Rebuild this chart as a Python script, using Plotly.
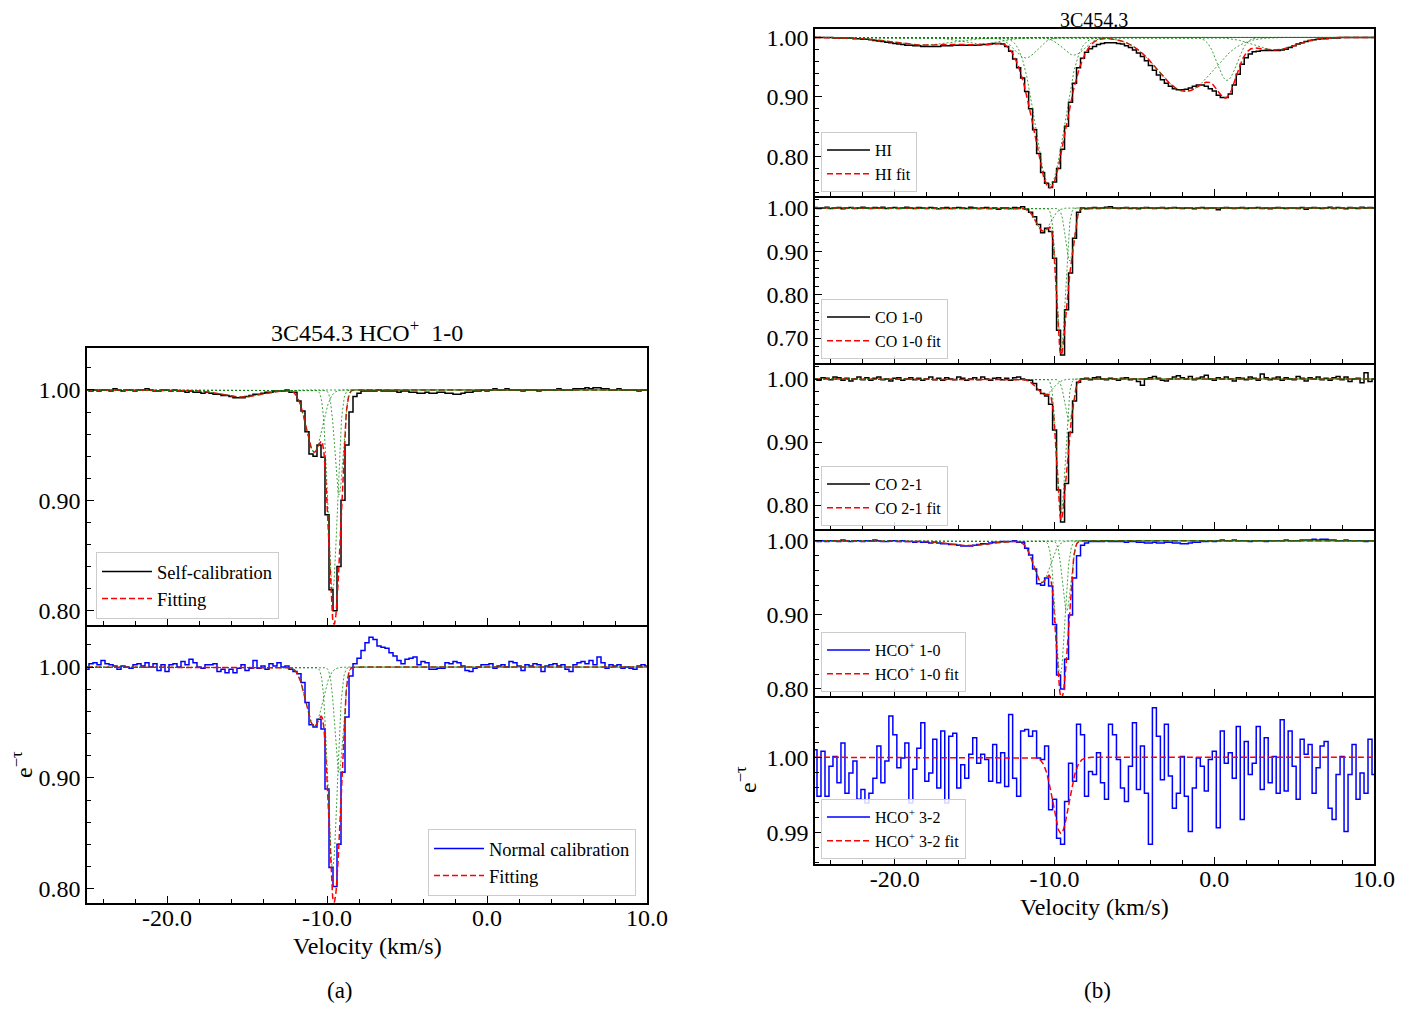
import numpy as np
import plotly.graph_objects as go

# page pixels of the reference; the figure div sits 8 px in from the page corner
PAGE_W, PAGE_H = 1427, 1011
OFF = 8
W, H = PAGE_W - OFF, PAGE_H - OFF
FONT = "Liberation Serif"

# ---------------- channel grid (km/s) ----------------
V_START, V_STEP = -25.0, 0.25

# ---------------- observed spectra (e^-tau per channel, from -25 to 10 km/s) ----------------
hco10_self = [
    1.000, 0.999, 1.000, 0.999,   # -25
    1.000, 1.000, 0.999, 1.001,   # -24
    1.000, 0.999, 1.000, 1.000,   # -23
    0.999, 1.000, 1.000, 1.001,   # -22
    1.000, 0.999, 0.999, 1.000,   # -21
    1.000, 0.999, 1.000, 0.999,   # -20
    0.999, 0.998, 0.999, 0.998,   # -19
    0.998, 0.997, 0.998, 0.997,   # -18
    0.996, 0.996, 0.995, 0.995,   # -17
    0.994, 0.993, 0.993, 0.993,   # -16
    0.994, 0.995, 0.996, 0.996,   # -15
    0.997, 0.998, 0.998, 0.999,   # -14
    0.999, 0.999, 1.000, 0.998,   # -13
    0.998, 0.990, 0.981, 0.962,   # -12
    0.942, 0.940, 0.950, 0.939,   # -11
    0.887, 0.819, 0.800, 0.840,   # -10
    0.900, 0.950, 0.980, 0.994,   # -9
    0.997, 0.999, 0.999, 0.999,   # -8
    0.999, 1.000, 0.999, 0.999,   # -7
    0.999, 0.999, 0.998, 0.999,   # -6
    0.999, 0.998, 0.998, 0.997,   # -5
    0.997, 0.998, 0.997, 0.997,   # -4
    0.998, 0.998, 0.997, 0.997,   # -3
    0.996, 0.996, 0.997, 0.998,   # -2
    0.998, 0.999, 0.999, 1.000,   # -1
    0.999, 1.000, 1.001, 1.000,   # 0
    1.000, 1.001, 1.000, 1.000,   # 1
    1.000, 0.999, 1.000, 1.000,   # 2
    1.000, 0.999, 1.000, 1.000,   # 3
    1.000, 1.000, 1.001, 1.000,   # 4
    1.000, 1.000, 1.001, 1.001,   # 5
    1.001, 1.002, 1.001, 1.002,   # 6
    1.002, 1.001, 1.001, 1.000,   # 7
    1.000, 1.001, 1.000, 1.000,   # 8
    1.000, 1.000, 0.999, 1.000,   # 9
    1.000,                        # 10
]

hco10_norm = [
    0.998, 1.003, 1.004, 1.002,   # -25
    1.006, 1.003, 1.002, 1.001,   # -24
    0.998, 1.001, 1.000, 0.999,   # -23
    1.002, 1.003, 1.001, 1.004,   # -22
    1.000, 1.003, 0.997, 1.002,   # -21
    0.996, 1.002, 1.003, 1.000,   # -20
    1.005, 1.002, 1.007, 1.004,   # -19
    1.000, 0.999, 1.002, 1.002,   # -18
    1.003, 0.996, 0.998, 0.995,   # -17
    0.998, 0.995, 0.999, 1.002,   # -16
    0.997, 0.999, 1.006, 0.999,   # -15
    1.001, 0.998, 1.003, 1.001,   # -14
    1.004, 1.000, 1.001, 0.998,   # -13
    0.996, 0.994, 0.986, 0.968,   # -12
    0.948, 0.946, 0.953, 0.944,   # -11
    0.890, 0.819, 0.802, 0.840,   # -10
    0.905, 0.955, 0.992, 1.003,   # -9
    1.008, 1.015, 1.022, 1.027,   # -8
    1.025, 1.019, 1.018, 1.017,   # -7
    1.013, 1.010, 1.006, 1.003,   # -6
    1.007, 1.008, 1.009, 1.002,   # -5
    1.005, 1.004, 0.998, 0.998,   # -4
    0.999, 0.999, 1.004, 1.003,   # -3
    1.005, 1.004, 1.001, 0.997,   # -2
    0.996, 0.999, 1.000, 1.002,   # -1
    1.002, 1.003, 0.999, 1.001,   # 0
    1.002, 1.000, 1.005, 1.004,   # 1
    1.001, 0.997, 1.002, 1.001,   # 2
    1.003, 1.002, 0.996, 1.001,   # 3
    1.002, 1.003, 1.001, 1.002,   # 4
    0.998, 0.996, 1.002, 1.004,   # 5
    1.005, 1.003, 1.006, 1.002,   # 6
    1.009, 1.004, 0.999, 1.002,   # 7
    1.001, 1.002, 0.999, 1.000,   # 8
    0.999, 0.998, 1.001, 1.002,   # 9
    1.001,                        # 10
]

hi_obs = [
    1.000, 1.000, 1.000, 1.000,   # -25
    1.000, 0.999, 0.999, 0.999,   # -24
    0.999, 0.999, 0.998, 0.998,   # -23
    0.997, 0.997, 0.996, 0.995,   # -22
    0.994, 0.993, 0.992, 0.991,   # -21
    0.990, 0.989, 0.988, 0.987,   # -20
    0.987, 0.986, 0.986, 0.985,   # -19
    0.985, 0.985, 0.985, 0.985,   # -18
    0.986, 0.986, 0.986, 0.987,   # -17
    0.987, 0.987, 0.987, 0.987,   # -16
    0.987, 0.987, 0.988, 0.988,   # -15
    0.989, 0.990, 0.990, 0.989,   # -14
    0.985, 0.977, 0.964, 0.949,   # -13
    0.932, 0.909, 0.880, 0.845,   # -12
    0.805, 0.773, 0.755, 0.748,   # -11
    0.757, 0.780, 0.812, 0.851,   # -10
    0.891, 0.923, 0.949, 0.965,   # -9
    0.975, 0.981, 0.985, 0.988,   # -8
    0.990, 0.991, 0.991, 0.991,   # -7
    0.990, 0.989, 0.986, 0.983,   # -6
    0.979, 0.974, 0.968, 0.961,   # -5
    0.953, 0.945, 0.937, 0.929,   # -4
    0.923, 0.918, 0.914, 0.912,   # -3
    0.912, 0.913, 0.915, 0.918,   # -2
    0.920, 0.920, 0.918, 0.914,   # -1
    0.910, 0.903, 0.899, 0.899,   # 0
    0.905, 0.920, 0.938, 0.955,   # 1
    0.966, 0.972, 0.976, 0.977,   # 2
    0.978, 0.978, 0.978, 0.978,   # 3
    0.978, 0.979, 0.980, 0.983,   # 4
    0.986, 0.989, 0.991, 0.993,   # 5
    0.995, 0.996, 0.997, 0.998,   # 6
    0.998, 0.999, 0.999, 0.999,   # 7
    1.000, 1.000, 1.000, 1.000,   # 8
    1.000, 1.000, 1.000, 1.000,   # 9
    1.000,                        # 10
]

co10_obs = [
    1.001, 0.999, 1.000, 1.002,   # -25
    0.999, 1.000, 1.001, 0.998,   # -24
    1.000, 1.001, 0.999, 1.000,   # -23
    1.002, 1.000, 0.999, 1.001,   # -22
    1.000, 1.002, 0.999, 1.000,   # -21
    1.001, 0.999, 1.000, 1.002,   # -20
    1.000, 0.999, 1.001, 1.000,   # -19
    0.999, 1.001, 1.000, 0.998,   # -18
    1.000, 1.001, 0.999, 1.000,   # -17
    1.001, 1.000, 0.999, 1.002,   # -16
    1.000, 0.999, 1.000, 1.001,   # -15
    0.999, 1.000, 0.997, 1.000,   # -14
    1.000, 0.999, 1.001, 1.000,   # -13
    1.003, 0.997, 0.990, 0.980,   # -12
    0.962, 0.943, 0.953, 0.946,   # -11
    0.884, 0.718, 0.661, 0.765,   # -10
    0.850, 0.930, 0.990, 1.000,   # -9
    0.998, 0.999, 1.001, 0.999,   # -8
    1.000, 1.002, 1.003, 1.000,   # -7
    0.999, 1.000, 1.001, 0.999,   # -6
    1.000, 0.998, 1.000, 1.001,   # -5
    1.000, 0.999, 1.000, 1.001,   # -4
    0.999, 1.000, 1.001, 1.000,   # -3
    0.999, 1.000, 1.000, 0.998,   # -2
    1.000, 1.001, 0.999, 1.000,   # -1
    1.000, 0.996, 1.000, 1.001,   # 0
    1.000, 0.999, 1.000, 1.001,   # 1
    0.999, 1.000, 1.000, 1.001,   # 2
    0.999, 1.000, 0.998, 1.000,   # 3
    1.001, 1.000, 0.999, 1.000,   # 4
    1.000, 0.999, 1.001, 0.997,   # 5
    1.000, 1.001, 1.000, 0.999,   # 6
    1.000, 1.002, 0.999, 1.001,   # 7
    1.000, 0.998, 1.001, 1.000,   # 8
    0.999, 1.002, 1.000, 1.001,   # 9
    1.000,                        # 10
]

co21_obs = [
    1.000, 0.998, 1.002, 1.001,   # -25
    0.999, 1.003, 1.002, 0.998,   # -24
    1.001, 0.997, 1.000, 1.003,   # -23
    0.999, 1.002, 0.998, 1.001,   # -22
    1.003, 0.999, 1.000, 0.997,   # -21
    1.001, 1.002, 0.998, 1.000,   # -20
    1.002, 0.999, 1.001, 0.998,   # -19
    1.000, 1.003, 0.999, 1.001,   # -18
    0.998, 1.002, 1.000, 0.999,   # -17
    1.003, 1.001, 0.998, 1.000,   # -16
    1.002, 0.999, 1.003, 1.000,   # -15
    0.998, 1.001, 1.002, 0.999,   # -14
    1.001, 0.998, 1.002, 1.003,   # -13
    1.000, 0.999, 0.998, 0.993,   # -12
    0.983, 0.977, 0.973, 0.960,   # -11
    0.919, 0.824, 0.773, 0.834,   # -10
    0.915, 0.965, 0.995, 1.000,   # -9
    1.001, 0.999, 1.002, 1.003,   # -8
    1.000, 0.999, 1.001, 1.000,   # -7
    0.998, 1.001, 1.002, 0.999,   # -6
    1.000, 0.996, 0.990, 1.000,   # -5
    1.002, 1.004, 1.001, 0.998,   # -4
    0.997, 1.000, 1.003, 1.005,   # -3
    1.002, 1.000, 1.004, 0.999,   # -2
    1.001, 1.003, 1.006, 1.000,   # -1
    0.998, 1.002, 1.000, 1.003,   # 0
    1.000, 0.997, 1.002, 1.001,   # 1
    0.999, 1.003, 1.001, 0.998,   # 2
    1.008, 1.002, 0.999, 1.001,   # 3
    1.003, 0.998, 1.002, 1.000,   # 4
    0.999, 1.004, 1.001, 0.997,   # 5
    1.002, 1.000, 1.003, 0.999,   # 6
    1.001, 0.998, 1.002, 1.004,   # 7
    0.999, 1.003, 0.996, 1.000,   # 8
    1.001, 0.994, 1.010, 0.996,   # 9
    1.000,                        # 10
]

hco32_obs = [
    1.0010, 0.9948, 1.0008, 0.9948,   # -25
    0.9988, 1.0001, 0.9966, 1.0019,   # -24
    0.9952, 0.9979, 0.9995, 0.9944,   # -23
    0.9957, 0.9939, 0.9952, 0.9972,   # -22
    1.0015, 0.9966, 0.9995, 1.0055,   # -21
    1.0030, 0.9986, 0.9999, 1.0019,   # -20
    0.9939, 0.9984, 1.0012, 1.0046,   # -19
    0.9968, 0.9979, 1.0024, 0.9959,   # -18
    1.0035, 0.9939, 1.0028, 1.0032,   # -17
    0.9959, 0.9990, 0.9972, 1.0004,   # -16
    1.0026, 0.9992, 1.0004, 0.9997,   # -15
    0.9968, 1.0017, 0.9966, 1.0006,   # -14
    0.9961, 1.0057, 0.9972, 0.9948,   # -13
    1.0035, 1.0037, 1.0028, 1.0035,   # -12
    0.9999, 0.9997, 1.0015, 0.9930,   # -11
    0.9944, 0.9892, 0.9884, 0.9941,   # -10
    0.9992, 0.9968, 1.0044, 1.0030,   # -9
    0.9948, 0.9981, 0.9977, 1.0006,   # -8
    0.9966, 0.9944, 1.0044, 1.0030,   # -7
    0.9997, 0.9959, 0.9941, 0.9988,   # -6
    1.0046, 0.9957, 1.0015, 0.9952,   # -5
    0.9884, 1.0066, 1.0028, 0.9970,   # -4
    1.0044, 0.9975, 0.9932, 0.9952,   # -3
    1.0001, 0.9948, 0.9901, 0.9959,   # -2
    0.9999, 0.9988, 0.9955, 0.9997,   # -1
    1.0008, 0.9906, 1.0035, 0.9992,   # 0
    1.0006, 0.9972, 1.0041, 0.9917,   # 1
    1.0021, 0.9977, 0.9992, 1.0041,   # 2
    0.9957, 1.0026, 0.9966, 1.0001,   # 3
    0.9952, 1.0050, 0.9955, 1.0035,   # 4
    0.9988, 0.9944, 1.0024, 1.0004,   # 5
    1.0017, 0.9952, 0.9986, 1.0015,   # 6
    1.0021, 0.9932, 0.9917, 0.9977,   # 7
    1.0001, 0.9901, 0.9977, 1.0017,   # 8
    0.9944, 0.9979, 0.9952, 1.0024,   # 9
    0.9977,                           # 10
]

# ---------------- Gaussian fit components (centre km/s, peak tau, sigma km/s) ----------------
hco10_self_cen = [-15.4, -10.8, -9.65, -9.25]
hco10_self_tau = [0.0065, 0.058, 0.20, 0.10]
hco10_self_sig = [1.3, 0.5, 0.28, 0.25]

hco10_norm_cen = [-10.8, -9.65, -9.25]
hco10_norm_tau = [0.055, 0.20, 0.10]
hco10_norm_sig = [0.5, 0.28, 0.25]

hi_cen = [-18.3, -14.6, -11.8, -10.3, -8.8, -1.8, 0.8, 3.8]
hi_tau = [0.013, 0.011, 0.035, 0.285, 0.030, 0.095, 0.075, 0.021]
hi_sig = [1.9, 1.2, 0.7, 0.85, 0.7, 1.7, 0.6, 1.3]

co10_cen = [-10.7, -9.6, -9.05]
co10_tau = [0.055, 0.40, 0.13]
co10_sig = [0.45, 0.25, 0.25]

co21_cen = [-10.6, -9.6, -9.1]
co21_tau = [0.025, 0.24, 0.07]
co21_sig = [0.5, 0.25, 0.25]

hco32_cen = [-9.6]
hco32_tau = [0.0102]
hco32_sig = [0.5]

for nm, arr in [("hco10_self", hco10_self), ("hco10_norm", hco10_norm), ("hi", hi_obs),
                ("co10", co10_obs), ("co21", co21_obs), ("hco32", hco32_obs)]:
    assert len(arr) == 141, (nm, len(arr))

vfine = np.linspace(-25, 10, 1401)


def chan_v(vals):
    return V_START + V_STEP * np.arange(len(vals))


def components(cen, tau, sig):
    taus = [a * np.exp(-0.5 * ((vfine - c) / s) ** 2) for c, a, s in zip(cen, tau, sig)]
    return [np.exp(-t) for t in taus], np.exp(-np.sum(taus, axis=0))


def fx(x):
    return (x - OFF) / W


def fy(y):
    return 1 - (y - OFF) / H


fig = go.Figure()

panels = [
    dict(xpx=(87, 647), ypx=(348, 625), yr=(0.787, 1.038), yt=[0.8, 0.9, 1.0], ym=0.02, xl=False, top=True,
         obs=hco10_self, col="black", name="Self-calibration", fitname="Fitting",
         comp=(hco10_self_cen, hco10_self_tau, hco10_self_sig), leg="legend"),
    dict(xpx=(87, 647), ypx=(625, 903), yr=(0.787, 1.038), yt=[0.8, 0.9, 1.0], ym=0.02, xl=True, top=False,
         obs=hco10_norm, col="blue", name="Normal calibration", fitname="Fitting",
         comp=(hco10_norm_cen, hco10_norm_tau, hco10_norm_sig), leg="legend2"),
    dict(xpx=(815, 1374), ypx=(29, 196), yr=(0.7336, 1.0142), yt=[0.8, 0.9, 1.0], ym=0.02, xl=False, top=True,
         obs=hi_obs, col="black", name="HI", fitname="HI fit",
         comp=(hi_cen, hi_tau, hi_sig), leg="legend3"),
    dict(xpx=(815, 1374), ypx=(196, 363), yr=(0.6423, 1.0277), yt=[0.7, 0.8, 0.9, 1.0], ym=0.02, xl=False, top=False,
         obs=co10_obs, col="black", name="CO 1-0", fitname="CO 1-0 fit",
         comp=(co10_cen, co10_tau, co10_sig), leg="legend4"),
    dict(xpx=(815, 1374), ypx=(363, 529), yr=(0.7619, 1.0254), yt=[0.8, 0.9, 1.0], ym=0.02, xl=False, top=False,
         obs=co21_obs, col="black", name="CO 2-1", fitname="CO 2-1 fit",
         comp=(co21_cen, co21_tau, co21_sig), leg="legend5"),
    dict(xpx=(815, 1374), ypx=(529, 696), yr=(0.7905, 1.016), yt=[0.8, 0.9, 1.0], ym=0.02, xl=False, top=False,
         obs=hco10_self, col="blue", name="HCO<sup>+</sup> 1-0", fitname="HCO<sup>+</sup> 1-0 fit",
         comp=(hco10_self_cen, hco10_self_tau, hco10_self_sig), leg="legend6"),
    dict(xpx=(815, 1374), ypx=(696, 864), yr=(0.98577, 1.00817), yt=[0.99, 1.00], ym=0.002, xl=True, top=False,
         obs=hco32_obs, col="blue", name="HCO<sup>+</sup> 3-2", fitname="HCO<sup>+</sup> 3-2 fit",
         comp=(hco32_cen, hco32_tau, hco32_sig), leg="legend7", nocomp=True),
]

xticks = [-20, -10, 0, 10]
xticktext = ["-20.0", "-10.0", "0.0", "10.0"]
layout_axes = {}

for k, p in enumerate(panels, start=1):
    xa = "x" if k == 1 else f"x{k}"
    ya = "y" if k == 1 else f"y{k}"
    comps, fit = components(*p["comp"])
    fig.add_trace(go.Scatter(x=chan_v(p["obs"]), y=p["obs"], mode="lines",
                             line=dict(color=p["col"], width=1.5, shape="hvh"),
                             name=p["name"], legend=p["leg"], xaxis=xa, yaxis=ya))
    fig.add_trace(go.Scatter(x=vfine, y=fit, mode="lines",
                             line=dict(color="red", width=1.5, dash="6px,3px"),
                             name=p["fitname"], legend=p["leg"], xaxis=xa, yaxis=ya))
    if not p.get("nocomp"):
        for c in comps:
            fig.add_trace(go.Scatter(x=vfine, y=c, mode="lines",
                                     line=dict(color="rgba(0,128,0,0.75)", width=1, dash="2px,2px"),
                                     showlegend=False, hoverinfo="skip", xaxis=xa, yaxis=ya))

    common = dict(showline=True, linecolor="black", linewidth=1.6,
                  ticks="inside", ticklen=7, tickwidth=1.4, tickcolor="black",
                  showgrid=False, zeroline=False, automargin=False,
                  tickfont=dict(family=FONT, size=24, color="black"))
    layout_axes["xaxis" if k == 1 else f"xaxis{k}"] = dict(
        domain=[fx(p["xpx"][0]), fx(p["xpx"][1])], range=[-25, 10], anchor=ya,
        mirror=p["top"], ticklabelstandoff=-8,
        tickmode="array", tickvals=xticks, ticktext=xticktext, showticklabels=p["xl"],
        minor=dict(tickmode="linear", tick0=0, dtick=2, ticks="inside", ticklen=4,
                   tickwidth=1.2, tickcolor="black", showgrid=False),
        **common)
    layout_axes["yaxis" if k == 1 else f"yaxis{k}"] = dict(
        domain=[fy(p["ypx"][1]), fy(p["ypx"][0])], range=list(p["yr"]), anchor=xa,
        mirror=True,
        tickmode="array", tickvals=p["yt"], ticktext=[f"{v:.2f}" for v in p["yt"]],
        minor=dict(tickmode="linear", tick0=0, dtick=p["ym"], ticks="inside", ticklen=4,
                   tickwidth=1.2, tickcolor="black", showgrid=False),
        **common)

leg_common = dict(bgcolor="rgba(255,255,255,0.85)", bordercolor="#cccccc", borderwidth=1,
                  tracegroupgap=0)
legends = dict(
    legend=dict(x=fx(96), y=fy(552), xanchor="left", yanchor="top", itemwidth=50,
                font=dict(family=FONT, size=18.5, color="black"), **leg_common),
    legend2=dict(x=fx(636), y=fy(896), xanchor="right", yanchor="bottom", itemwidth=50,
                 font=dict(family=FONT, size=18.5, color="black"), **leg_common),
)
for k, top in zip(range(3, 8), [132, 299, 466, 632, 799]):
    legends[f"legend{k}"] = dict(x=fx(821), y=fy(top), xanchor="left", yanchor="top", itemwidth=43,
                                 font=dict(family=FONT, size=16, color="black"), **leg_common)


def ann(text, x, y, size=24, angle=0, **kw):
    d = dict(text=text, x=fx(x), y=fy(y), xref="paper", yref="paper", showarrow=False,
             xanchor="center", yanchor="middle", textangle=angle,
             font=dict(family=FONT, size=size, color="black"))
    d.update(kw)
    return d


annotations = [
    ann("3C454.3 HCO<sup>+</sup>  1-0", 367, 331),
    ann("3C454.3", 1094, 8, size=20, yanchor="top", borderpad=0),
    ann("Velocity (km/s)", 367, 946),
    ann("Velocity (km/s)", 1094, 907),
    ann("e<sup>−τ</sup>", 22, 765, angle=-90),
    ann("e<sup>−τ</sup>", 746, 780, angle=-90),
    ann("(a)", 340, 990, size=23),
    ann("(b)", 1097, 990, size=23),
]

fig.update_layout(width=W, height=H, margin=dict(l=0, r=0, t=0, b=0, pad=0, autoexpand=False),
                  autosize=False,
                  paper_bgcolor="white", plot_bgcolor="white",
                  font=dict(family=FONT, color="black"),
                  annotations=annotations, **layout_axes, **legends)

fig.write_html("out.html")
